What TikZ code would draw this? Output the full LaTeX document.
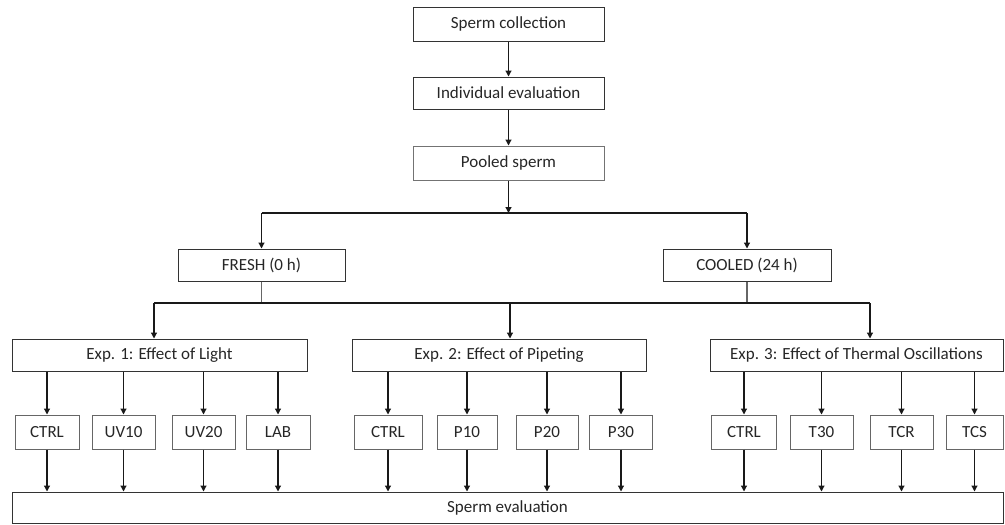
\documentclass[tikz,border=0pt]{standalone}
\usepackage{fontspec}
\setmainfont{Carlito}
\usetikzlibrary{arrows.meta}
\begin{document}
\begin{tikzpicture}[x=1pt,y=-1pt,
  box/.style={draw=black!80,line width=1pt,inner sep=0pt,minimum height=#1,text=black!85,font=\fontsize{17}{20}\selectfont},
  box/.default=32pt,
  arr/.style={line width=1.2pt,draw=black!90,-{Triangle[width=6pt,length=6pt]}},
  ln/.style={line width=1.2pt,draw=black!90}]
\useasboundingbox (0,0) rectangle (1005,525);
\node[box=34pt,minimum width=191pt] (sc) at (508.5,24) {Sperm collection};
\node[box=32pt,minimum width=191pt] (ie) at (508.5,93) {Individual evaluation};
\node[box=34pt,minimum width=191pt,draw=black!55] (ps) at (508.5,163) {Pooled sperm};
\node[box,minimum width=167pt] (fr) at (261.5,265) {FRESH (0 h)};
\node[box,minimum width=168pt] (co) at (747,265) {COOLED (24 h)};
\node[box,minimum width=295pt] (e1) at (159.5,355) {Exp. 1: Effect of Light};
\node[box,minimum width=294pt] (e2) at (499,355) {Exp. 2: Effect of Pipeting};
\node[box,minimum width=293pt] (e3) at (856.5,355) {Exp. 3: Effect of Thermal Oscillations};
\node[box=31pt,minimum width=991pt] (ev) at (507.5,507.5) {Sperm evaluation};
% sub-boxes
\foreach \n/\x/\w/\t in {a1/47/64/CTRL,a2/123.5/63/UV10,a3/203.5/63/UV20,a4/278/64/LAB,
  b1/388/68/CTRL,b2/467/60/P10,b3/547/62/P20,b4/621/63/P30,
  c1/744/65/CTRL,c2/821.5/63/T30,c3/901.5/63/TCR,c4/974.5/57/TCS}{
  \node[box=34pt,minimum width=\w pt,draw=black!60] (\n) at (\x,432) {\t};
}
\coordinate (j1) at (508.5,213);
\coordinate (h1) at (154,303);
\coordinate (h2) at (510,303);
\coordinate (h3) at (870,303);
\draw[arr] (sc) -- (ie);
\draw[arr] (ie) -- (ps);
\draw[arr] (ps) -- (j1);
\draw[ln] (fr.north|-j1) -- (co.north|-j1);
\draw[arr] (fr.north|-j1) -- (fr.north);
\draw[arr] (co.north|-j1) -- (co.north);
\draw[ln,draw=black!60] (fr) -- (fr.south|-h1);
\draw[ln,draw=black!60] (co) -- (co.south|-h1);
\draw[ln] (h1) -- (h3);
\draw[arr] (h1) -- (h1|-e1.north);
\draw[arr] (h2) -- (h2|-e2.north);
\draw[arr] (h3) -- (h3|-e3.north);
\foreach \e/\n in {e1/a1,e1/a2,e1/a3,e1/a4,e2/b1,e2/b2,e2/b3,e2/b4,e3/c1,e3/c2,e3/c3,e3/c4}{
  \draw[arr] (\n.north|-\e.south) -- (\n.north);
  \draw[arr] (\n) -- (\n.south|-ev.north);
}
\end{tikzpicture}
\end{document}
